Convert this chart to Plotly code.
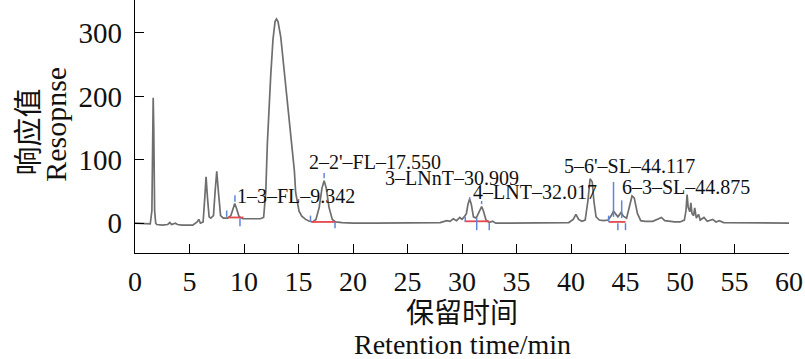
import plotly.graph_objects as go

# ---- chromatogram trace (retention time in min, response) ----
time_min = [0.0, 0.5, 1.0, 1.4, 1.55, 1.62, 1.67, 1.72, 1.8, 1.9, 2.0, 2.5, 3.0, 3.2, 3.35, 3.7, 3.9,
            4.3, 4.8, 5.3, 5.7, 5.85, 6.0, 6.25, 6.4, 6.52, 6.65, 6.8, 6.95, 7.2, 7.35, 7.5, 7.65,
            7.85, 8.1, 8.5, 8.8, 9.0, 9.15, 9.3, 9.55, 9.9, 10.5, 11.0, 11.5, 11.8, 12.0, 12.14,
            12.3, 12.45, 12.66, 12.85, 12.98, 13.12, 13.37, 13.67, 13.97, 14.28, 14.5, 14.62,
            14.74, 14.9, 15.05, 15.3, 15.66, 16.0, 16.3, 16.6, 16.9, 17.15, 17.35, 17.55, 17.8,
            18.1, 18.4, 19.0, 20.0, 22.0, 24.0, 26.0, 28.0, 28.6, 28.9, 29.2, 29.5, 29.8, 30.0,
            30.2, 30.4, 30.55, 30.7, 30.85, 31.05, 31.3, 31.5, 31.65, 31.8, 31.95, 32.2, 32.5,
            32.8, 33.1, 34.0, 36.0, 38.0, 39.8, 40.2, 40.45, 40.7, 41.0, 41.3, 41.55, 41.75,
            41.95, 42.1, 42.3, 42.6, 43.0, 43.4, 43.7, 43.9, 44.1, 44.3, 44.6, 44.8, 45.1, 45.35,
            45.6, 45.8, 46.1, 46.4, 46.8, 47.5, 48.0, 48.3, 48.6, 49.0, 49.5, 50.0, 50.4, 50.55,
            50.65, 50.75, 50.9, 51.0, 51.1, 51.25, 51.35, 51.5, 51.7, 51.85, 52.2, 52.5, 53.0,
            53.3, 53.6, 54.0, 55.0, 56.0, 58.0, 60.0]
response = [0, 0, -1, -1, 20, 150, 198, 150, 20, 0, -2, -3, -2, 1, -2, 0, -2,
            -3, -3, -3, 2, 6, 0, 2, 40, 73, 40, 10, 8, 12, 50, 82, 50,
            12, 8, 8, 12, 24, 31, 24, 10, 7, 7, 7, 7, 9, 50, 125,
            190, 232, 290, 318, 322, 318, 294, 243, 200, 138, 100, 83,
            48, 30, 19, 11, 6, 3, 2, 6, 25, 55, 67, 55, 25,
            6, 2, 1, 0, 0, 0, 0, 1, 4, 3, 7, 4, 9, 6,
            10, 15, 30, 38, 30, 10, 8, 15, 22, 26, 20, 5, 1,
            3, 0, 0, 0, 0, 1, 6, 14, 6, 3, 5, 35, 70,
            65, 35, 10, 5, 4, 5, 12, 19, 14, 10, 17, 11, 8, 25,
            43, 40, 15, 4, 3, 3, 7, 9, 4, 3, 2, 2, 5, 20,
            45, 25, 18, 32, 15, 12, 24, 8, 14, 5, 9, 3, 6,
            2, 4, 1, 1, 0, 0, 0]

# ---- integration baselines (red): start, end, level ----
base_start = [8.5, 16.2, 30.25, 43.45]
base_end = [9.95, 18.35, 32.5, 45.0]
base_level = [9, 2, 3, 2]

# ---- integration event marks (blue): time, low, high ----
mark_time = [8.41, 9.17, 9.63, 16.1, 17.35, 18.35, 30.3, 30.7, 31.35, 31.8, 32.5,
             43.45, 43.9, 44.3, 44.65, 45.0]
mark_low = [10, 34, -5, 2, 71, -8, 2, 36, -11, 30, -11, 2, 10, -11, 8, -11]
mark_high = [20, 44, 8, 12, 79, 2, 10, 41, 8, 35, 0, 12, 65, 0, 36, 0]

# ---- peak labels ----
peak_labels = ["1\u20133\u2013FL\u20139.342", "2\u20132'\u2013FL\u201317.550", "3\u2013LNnT\u201330.909",
               "4\u2013LNT\u201332.017", "5\u20136'\u2013SL\u201344.117", "6\u20133\u2013SL\u201344.875"]
label_anchor_t = [9.17, 15.8, 22.75, 30.8, 39.2, 44.5]
label_anchor_v = [43, 96, 71, 49, 90, 57]

x_ticks = list(range(0, 61, 5))
y_ticks = [0, 100, 200, 300]

SERIF = "Liberation Serif, Times New Roman, Noto Sans CJK SC, serif"

fig = go.Figure()

fig.add_trace(go.Scatter(x=time_min, y=response, mode="lines",
                         line=dict(color="#6e6e6e", width=1.7), hoverinfo="skip",
                         showlegend=False))

# red baselines
bx, by = [], []
for s, e, lv in zip(base_start, base_end, base_level):
    bx += [s, e, None]
    by += [lv, lv, None]
fig.add_trace(go.Scatter(x=bx, y=by, mode="lines", line=dict(color="#e5484d", width=1.8),
                         showlegend=False, hoverinfo="skip"))

# blue marks
mx, my = [], []
for t, lo, hi in zip(mark_time, mark_low, mark_high):
    mx += [t, t, None]
    my += [lo, hi, None]
fig.add_trace(go.Scatter(x=mx, y=my, mode="lines", line=dict(color="#5f86d8", width=1.5),
                         showlegend=False, hoverinfo="skip"))

for txt, t, v in zip(peak_labels, label_anchor_t, label_anchor_v):
    fig.add_annotation(x=t, y=v, xref="x", yref="y", text=txt, showarrow=False,
                       xanchor="left", yanchor="middle",
                       font=dict(family=SERIF, size=20, color="#111"))

# axis titles (as annotations for precise placement)
fig.add_annotation(x=0.5, y=-0.228, xref="paper", yref="paper", text="保留时间", showarrow=False,
                   xanchor="center", yanchor="middle",
                   font=dict(family="Noto Sans CJK SC", size=28, color="#111"))
fig.add_annotation(x=0.5, y=-0.362, xref="paper", yref="paper", text="Retention time/min",
                   showarrow=False, xanchor="center", yanchor="middle",
                   font=dict(family=SERIF, size=28, color="#111"))
fig.add_annotation(x=-0.166, y=0.478, xref="paper", yref="paper", text="响应值", showarrow=False,
                   textangle=-90, xanchor="center", yanchor="middle",
                   font=dict(family="Noto Sans CJK SC", size=29, color="#111"))
fig.add_annotation(x=-0.121, y=0.51, xref="paper", yref="paper", text="Resopnse", showarrow=False,
                   textangle=-90, xanchor="center", yanchor="middle",
                   font=dict(family=SERIF, size=30, color="#111"))

fig.update_xaxes(range=[0, 60], tickvals=x_ticks, ticks="inside", ticklen=9, tickcolor="black",
                 showline=True, linecolor="black", linewidth=1.2, showgrid=False, zeroline=False,
                 tickfont=dict(family=SERIF, size=28, color="#111"), ticklabelstandoff=3,
                 automargin=False)
fig.update_yaxes(range=[-47, 352], tickvals=y_ticks, ticks="inside", ticklen=9, tickcolor="black",
                 showline=True, linecolor="black", linewidth=1.2, showgrid=False, zeroline=False,
                 tickfont=dict(family=SERIF, size=29, color="#111"), ticklabelstandoff=6,
                 automargin=False)

fig.update_layout(width=805, height=359, margin=dict(l=135, r=16, t=0, b=106, pad=0),
                  plot_bgcolor="white", paper_bgcolor="white", showlegend=False)

fig.write_html("out.html", config={"displayModeBar": False},
               post_script="document.body.style.margin='0';document.body.style.overflow='hidden';")
